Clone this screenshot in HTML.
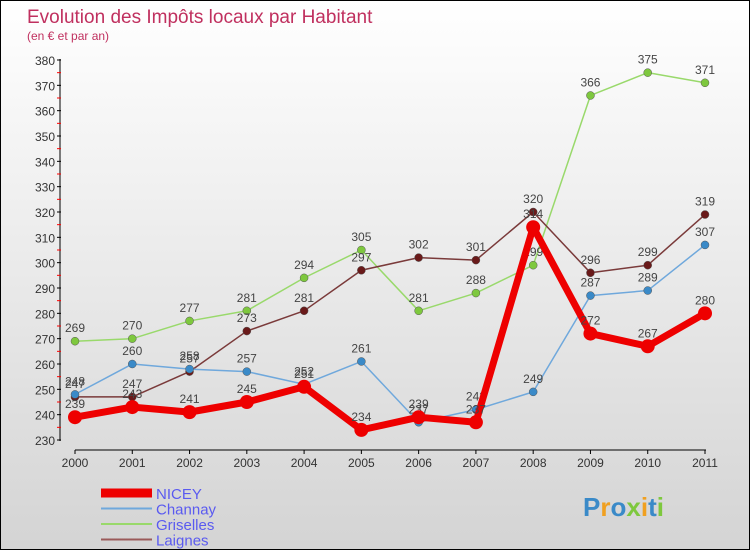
<!DOCTYPE html>
<html><head><meta charset="utf-8"><style>
body{margin:0}
#c{width:748px;height:548px;border:1px solid #000;background:linear-gradient(#fff,#d4d4d4);position:relative;font-family:"Liberation Sans",sans-serif}
</style></head><body>
<div id="c">
<svg id="s" width="748" height="548"></svg>
</div>
<script>
const years=["2000","2001","2002","2003","2004","2005","2006","2007","2008","2009","2010","2011"];
const nicey=[239,243,241,245,251,234,239,237,314,272,267,280];
const channay=[248,260,258,257,252,261,237,242,249,287,289,307];
const griselles=[269,270,277,281,294,305,281,288,299,366,375,371];
const laignes=[247,247,257,273,281,297,302,301,320,296,299,319];
const yTicks=[230,240,250,260,270,280,290,300,310,320,330,340,350,360,370,380];
const names=["NICEY","Channay","Griselles","Laignes"];
const svg=document.getElementById('s');const NS="http://www.w3.org/2000/svg";
const X=i=>74+i*(630/11);
const Y=v=>439-(v-230)*(380/150);
function el(t,a,p){const e=document.createElementNS(NS,t);for(const k in a)e.setAttribute(k,a[k]);(p||svg).appendChild(e);return e;}
function tx(x,y,s,a){const e=el('text',Object.assign({x:x,y:y},a));e.textContent=s;return e;}
let t=tx(26,22,"Evolution des Impôts locaux par Habitant",{fill:"#c0305f","font-size":"19"});


t=tx(26,39,"(en € et par an)",{fill:"#c0305f","font-size":"12"});


let ax=el('line',{x1:59,y1:58,x2:59,y2:440,stroke:"#000"});


yTicks.forEach((v,i)=>{el('line',{x1:56,x2:60,y1:Y(v),y2:Y(v),stroke:"#000"});
 if(i<yTicks.length-1)el('line',{x1:56,x2:60,y1:Y(v+5),y2:Y(v+5),stroke:"#f00"});
 const l=tx(54,Y(v)+5,v,{"text-anchor":"end","font-size":"12",fill:"#333"});
 
 });
ax=el('line',{x1:74,y1:449,x2:705,y2:449,stroke:"#000"});


years.forEach((y,i)=>{el('line',{x1:X(i),x2:X(i),y1:449,y2:453,stroke:"#000"});
 const l=tx(X(i),466,y,{"text-anchor":"middle","font-size":"12",fill:"#333"});
 
 });
const series=[[griselles,"#99d96b","#7ec83e",1.5,4,"griselles"],[laignes,"#7a3a3a","#6a1a1a",1.5,4,"laignes"],[channay,"#6fa8dc","#3a8ac8",1.5,4,"channay"],[nicey,"#ee0000","#ee0000",7,7,"nicey"]];
series.forEach(([d,c,dc,w,r,n])=>{
 const p=el('polyline',{points:d.map((v,i)=>X(i)+","+Y(v)).join(" "),fill:"none",stroke:c,"stroke-width":w,"stroke-linejoin":"round"});
 
 
 d.forEach((v,i)=>{const m=el('circle',{cx:X(i),cy:Y(v),r:r,fill:dc,stroke:r>5?"none":"#555","stroke-width":0.5});
  
  
  const l=tx(X(i),Y(v)-9,v,{"text-anchor":"middle","font-size":"12",fill:"#444"});
  
  });
});
const lc=[["#ee0000",9],["#6fa8dc",2],["#99d96b",2],["#9a5a5a",2]];
names.forEach((n,i)=>{const y=492+i*15.5;
 const g=el('g',{});
 
 
 el('line',{x1:100,x2:151,y1:y,y2:y,stroke:lc[i][0],"stroke-width":lc[i][1]},g);
 tx(155,y+6,n,{fill:"#5a5af0","font-size":"15"},g);});
const lg=el('text',{x:582,y:515,"font-size":"26","font-weight":"bold"});


[["P","#3a8ac8"],["r","#f0a020"],["o","#3a8ac8"],["x","#7ec83e"],["i","#f0a020"],["t","#3a8ac8"],["i","#7ec83e"]].forEach(([ch,c])=>{const s=document.createElementNS(NS,'tspan');s.setAttribute('fill',c);s.textContent=ch;lg.appendChild(s);});
</script>
</body></html>
